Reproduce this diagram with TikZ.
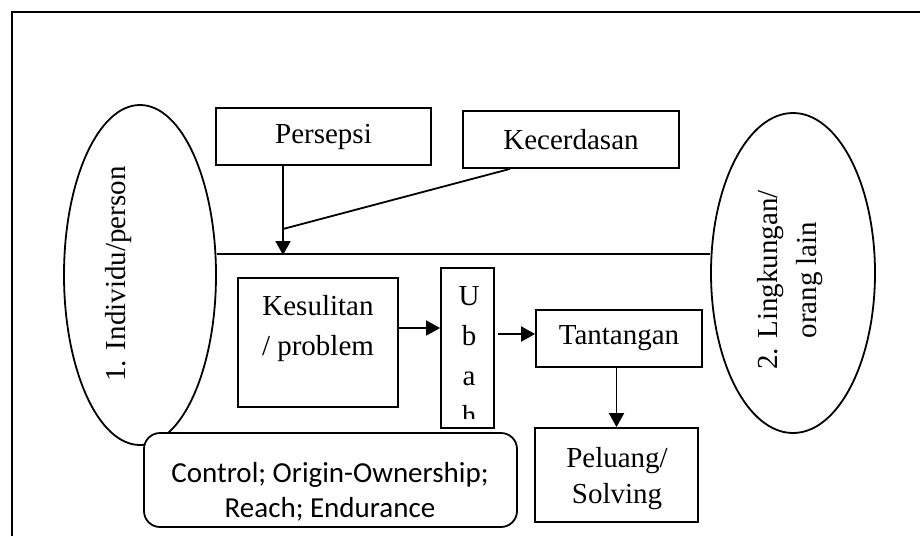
\documentclass[tikz,border=0pt]{standalone}
\usepackage{fontspec}
\setmainfont{Liberation Serif}
\newfontfamily\calfont{Carlito}
\usetikzlibrary{shapes.geometric,arrows.meta}

\begin{document}
\begin{tikzpicture}[x=0.5pt,y=-0.5pt,
  line width=0.9pt,
  every node/.style={font=\fontsize{14.5pt}{20pt}\selectfont},
  box/.style={draw,rectangle,inner sep=0pt},
  oval/.style={draw,ellipse,inner sep=0pt},
  arr/.style={-{Triangle[length=7pt,width=7.5pt]}},
]
\useasboundingbox (0,0) rectangle (920,536);

% outer frame
\draw (12,536) -- (12,12) -- (920,12);

% the two actors
\node[oval, minimum width=76pt, minimum height=170pt] (L) at (140,275) {};
\node[rotate=90] (Ltxt) at (119,274) {1. Individu/person};
\node[oval, minimum width=82pt, minimum height=160pt] (R) at (793,273) {};
\node[rotate=90, align=center, font=\fontsize{14.5pt}{19.5pt}\selectfont] (Rtxt) at (790,280) {2. Lingkungan/\\orang lain};

% link between individual and environment
\draw (L.east |- 0,254) -- (R.west |- 0,254);

% influences
\node[box, minimum width=107.5pt, minimum height=28.5pt] (P) at (323.5,136.5) {Persepsi};
\node[box, minimum width=108pt, minimum height=28.5pt] (C) at (571,139.5) {Kecerdasan};
\coordinate (hl) at (283,255);
\coordinate (j) at (283,229);
\draw[arr] ([xshift=-20.25pt]P.south) -- (hl);
\draw ([xshift=-30.5pt]C.south) -- (j);

% process chain (base anchor = baseline of the last line)
\node[box, minimum width=80pt, minimum height=64.5pt] (K) at (318,342.5) {};
\node[anchor=base, align=center] (Ktxt) at (318,355) {Kesulitan\\/ problem};

\node[box, minimum width=26.5pt, minimum height=80pt] (U) at (467.5,348) {};
\begin{scope}
  \clip (441,268) rectangle (494,418);
  \node[anchor=base, align=center] (Utxt) at (469,425) {U\\b\\a\\h};
\end{scope}

\node[box, minimum width=83pt, minimum height=28.5pt] (T) at (619,338.5) {Tantangan};

\node[box, minimum width=81.5pt, minimum height=47pt] (S) at (616.5,475) {};
\node[anchor=base, align=center, font=\fontsize{14.5pt}{18pt}\selectfont] (Stxt) at (617,503) {Peluang/\\Solving};

\coordinate (us) at (498,334);
\draw[arr] (K.east |- 0,328) -- (U.west |- 0,328);
\draw[arr] (us) -- (T.west |- us);
\draw[arr] (T.south -| S.north) -- (S.north);

% CO2RE dimensions
\node[box, rounded corners=8pt, fill=white, minimum width=186.5pt, minimum height=47pt] (O) at (330.5,480) {};
\node[anchor=base, align=center, font=\calfont\fontsize{14.5pt}{17.5pt}\selectfont] (Otxt) at (330,517) {Control; Origin-Ownership;\\Reach; Endurance};
\end{tikzpicture}
\end{document}
